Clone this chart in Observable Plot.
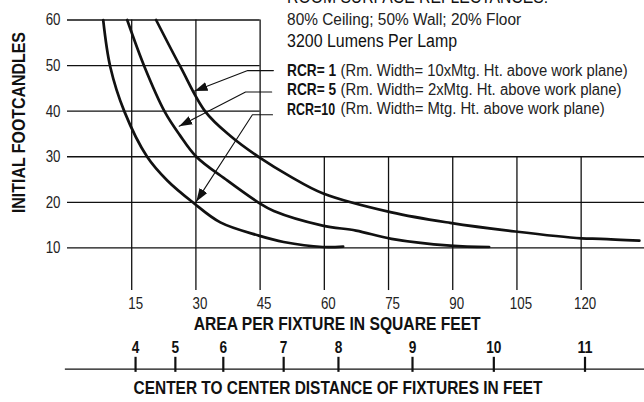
<!DOCTYPE html>
<html><head><meta charset="utf-8">
<script src="https://cdn.jsdelivr.net/npm/d3@7"></script>
<script src="https://cdn.jsdelivr.net/npm/@observablehq/plot@0.6"></script>
<style>
html,body{margin:0;padding:0;background:#fff;}
#chart svg{display:block;}
</style></head><body><div id="chart"></div>
<script>
// ---------- data ----------
const xTicks = [15, 30, 45, 60, 75, 90, 105, 120];
const yTicks = [10, 20, 30, 40, 50, 60];
const distanceTicks = [4, 5, 6, 7, 8, 9, 10, 11];
// where each distance tick sits on the area axis (as drawn)
const distanceTickArea = [15.9, 25.2, 36.4, 50.5, 63.3, 80.6, 99.6, 120.9];

const rcr1Area = [20.7, 26.4, 32.2, 38.0, 44.9, 52.0, 59.6, 75.7, 89.4, 104.6, 120.0, 124.5, 133.6];
const rcr1Fc   = [60.0, 49.7, 39.9, 34.6, 29.8, 25.7, 22.0, 17.8, 15.5, 13.6, 12.1, 12.0, 11.6];
const rcr5Area = [13.95, 18.0, 22.7, 26.2, 30.1, 37.3, 44.7, 48.2, 59.6, 67.4, 75.7, 89.4, 98.5];
const rcr5Fc   = [60.0, 49.7, 39.9, 34.8, 30.0, 24.8, 19.9, 18.1, 14.9, 13.8, 12.0, 10.5, 10.2];
const rcr10Area = [8.34, 10.0, 13.3, 18.6, 23.3, 29.4, 35.7, 44.7, 50.5, 59.6, 64.4];
const rcr10Fc   = [60.0, 49.7, 39.9, 30.0, 24.8, 19.9, 15.6, 12.7, 11.3, 10.2, 10.3];

const headerLines = ["ROOM SURFACE REFLECTANCES:", "80% Ceiling; 50% Wall; 20% Floor", "3200 Lumens Per Lamp"];
const legendBold = ["RCR= 1", "RCR= 5", "RCR=10"];
const legendNote = ["(Rm. Width= 10xMtg. Ht. above work plane)", "(Rm. Width= 2xMtg. Ht. above work plane)", "(Rm. Width= Mtg. Ht. above work plane)"];
const xTitle = "AREA PER FIXTURE IN SQUARE FEET";
const distTitle = "CENTER TO CENTER DISTANCE OF FIXTURES IN FEET";
const yTitle = "INITIAL FOOTCANDLES";

// ---------- tables built from the arrays ----------
const curves = [
  ...rcr1Area.map((a, i) => ({series: "RCR=1", area: a, fc: rcr1Fc[i]})),
  ...rcr5Area.map((a, i) => ({series: "RCR=5", area: a, fc: rcr5Fc[i]})),
  ...rcr10Area.map((a, i) => ({series: "RCR=10", area: a, fc: rcr10Fc[i]}))
];

// leader lines: start (at label), elbow, tip (on curve)
const leaders = [
  {s: 0, pts: [[48.1, 48.9], [42.1, 48.9], [29.7, 44.4]]},
  {s: 1, pts: [[47.7, 44.2], [41.6, 44.2], [26.1, 36.7]]},
  {s: 2, pts: [[47.9, 39.2], [43.2, 39.2], [30.1, 20.2]]}
].flatMap(d => d.pts.map(([x, y]) => ({s: d.s, x, y})));

const X_MAX = 134.8;
const FONT = '"Liberation Sans", Arial, sans-serif';
const INK = "#111";

// layout of annotations (data units)
const LEG_X = 51.3, NOTE_X = 63.8;
const headerY = [65.0, 60.0, 55.3];
const legendY = [48.9, 44.6, 40.4];

const chart = Plot.plot({
  width: 644, height: 402,
  marginLeft: 67, marginRight: 0, marginTop: 19.5, marginBottom: 109,
  x: {domain: [0, X_MAX], axis: null},
  y: {domain: [0, 60], axis: null},
  style: {fontFamily: FONT, background: "#fff", color: INK, overflow: "visible"},
  marks: [
    Plot.ruleY(yTicks, {y: d => d, x1: 0, x2: d => d > 30 ? 45 : X_MAX, stroke: INK, strokeWidth: 1.3}),
    Plot.ruleX(xTicks, {x: d => d, y1: 0.65, y2: d => d <= 45 ? 60 : 30, stroke: INK, strokeWidth: 1.3}),
    Plot.line(curves, {x: "area", y: "fc", z: "series", curve: "catmull-rom", stroke: INK, strokeWidth: 2.7}),
    Plot.line(leaders, {x: "x", y: "y", z: "s", stroke: INK, strokeWidth: 1.1, markerEnd: "arrow"}),
    Plot.text(yTicks, {y: d => d, frameAnchor: "left", dx: -7, textAnchor: "end", text: d => String(d), fontSize: 17, fill: "#222"}),
    Plot.text(xTicks, {x: d => d, y: -2.1, dx: 4, text: d => String(d), fontSize: 17, fill: "#222"}),
    Plot.text([xTitle], {x: 63.0, y: -6.8, text: d => d, fontSize: 18, fontWeight: "bold", fill: INK}),
    Plot.ruleY([-16.6], {x1: -0.5, x2: X_MAX, stroke: INK, strokeWidth: 1.3}),
    Plot.ruleX(distanceTicks, {x: (d, i) => distanceTickArea[i], y1: -17.3, y2: -14.0, stroke: INK, strokeWidth: 2.2}),
    Plot.text(distanceTicks, {x: (d, i) => distanceTickArea[i], y: -11.9, text: d => String(d), fontSize: 16, fontWeight: "bold", fill: INK}),
    Plot.text([distTitle], {x: 63.2, y: -20.7, text: d => d, fontSize: 18, fontWeight: "bold", fill: INK}),
    Plot.text([yTitle], {x: -11.2, y: 37.5, rotate: -90, text: d => d, fontSize: 18, fontWeight: "bold", fill: INK}),
    Plot.text(headerLines, {x: LEG_X, y: (d, i) => headerY[i], text: d => d, textAnchor: "start", fontSize: (d, i) => i === 1 ? 16 : 18, fontWeight: (d, i) => i === 1 ? "normal" : "bold", fill: (d, i) => i === 1 ? "#222" : INK}),
    Plot.text(legendBold, {x: LEG_X, y: (d, i) => legendY[i], text: d => d, textAnchor: "start", fontSize: 16.5, fontWeight: "bold", fill: INK}),
    Plot.text(legendNote, {x: NOTE_X, y: (d, i) => legendY[i], text: d => d, textAnchor: "start", fontSize: 16, fill: "#222"})
  ]
});

// filled arrowheads for the leaders
chart.querySelectorAll("marker").forEach(m => {
  m.setAttribute("viewBox", "-13 -5 13 10");
  m.setAttribute("markerWidth", "13");
  m.setAttribute("markerHeight", "10");
  m.setAttribute("markerUnits", "userSpaceOnUse");
  m.setAttribute("refX", "0");
  m.setAttribute("refY", "0");
  m.setAttribute("fill", INK);
  m.setAttribute("stroke", "none");
  m.innerHTML = '<path d="M0,0L-13,-4.6L-13,4.6Z"></path>';
});

document.getElementById("chart").append(chart);

// condensed look: squeeze each text to the width it has in the original
const widths = {
  [xTitle]: 287, [distTitle]: 409, [yTitle]: 181,
  [headerLines[0]]: 261, [headerLines[1]]: 234, [headerLines[2]]: 170,
  [legendBold[0]]: 49, [legendBold[1]]: 49, [legendBold[2]]: 48,
  [legendNote[0]]: 287, [legendNote[1]]: 281, [legendNote[2]]: 264
};
chart.querySelectorAll("text").forEach(t => {
  const s = t.textContent;
  let w = widths[s];
  if (w == null && /^\d+$/.test(s)) w = s.length * (t.getAttribute("font-weight") === "bold" || t.parentNode.getAttribute("font-weight") === "bold" ? 7.6 : 7.4);
  if (w != null) {
    t.setAttribute("textLength", w);
    t.setAttribute("lengthAdjust", "spacingAndGlyphs");
  }
});
</script>
</body></html>
